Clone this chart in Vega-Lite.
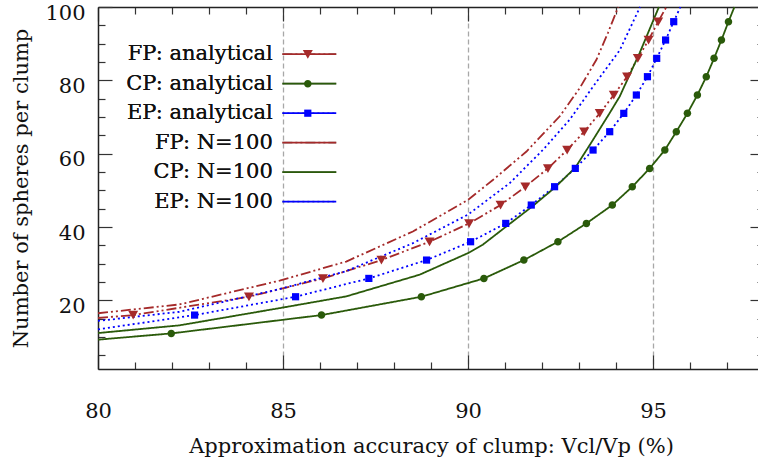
{
  "$schema": "https://vega.github.io/schema/vega-lite/v6.json",
  "width": 660,
  "height": 362,
  "autosize": {"type": "none"},
  "padding": {"left": 98, "top": 7, "right": 0, "bottom": 94},
  "background": "white",
  "config": {
    "view": {"stroke": null},
    "font": "DejaVu Serif",
    "axis": {
      "labelFont": "DejaVu Serif",
      "titleFont": "DejaVu Serif",
      "labelFontSize": 21,
      "titleFontSize": 21,
      "titleFontWeight": "normal",
      "labelColor": "#111111",
      "titleColor": "#111111",
      "domainColor": "#222222",
      "domainWidth": 1.5,
      "tickColor": "#333333",
      "tickWidth": 1.2,
      "labelOverlap": false,
      "labelFlush": false
    },
    "legend": {
      "labelFont": "DejaVu Serif",
      "labelFontSize": 21,
      "labelColor": "#111111",
      "labelLimit": 400,
      "padding": 0,
      "rowPadding": 7.5
    }
  },
  "datasets": {
    "lines": [
      {"series": "FP: analytical", "x": 80, "y": 15.2},
      {"series": "FP: analytical", "x": 80.95, "y": 16},
      {"series": "FP: analytical", "x": 84.08, "y": 21},
      {"series": "FP: analytical", "x": 86.08, "y": 26},
      {"series": "FP: analytical", "x": 87.66, "y": 31},
      {"series": "FP: analytical", "x": 88.96, "y": 36},
      {"series": "FP: analytical", "x": 90.03, "y": 41},
      {"series": "FP: analytical", "x": 90.88, "y": 46},
      {"series": "FP: analytical", "x": 91.55, "y": 51},
      {"series": "FP: analytical", "x": 92.16, "y": 56},
      {"series": "FP: analytical", "x": 92.68, "y": 61},
      {"series": "FP: analytical", "x": 93.14, "y": 66},
      {"series": "FP: analytical", "x": 93.56, "y": 71},
      {"series": "FP: analytical", "x": 93.94, "y": 76},
      {"series": "FP: analytical", "x": 94.3, "y": 81},
      {"series": "FP: analytical", "x": 94.59, "y": 86},
      {"series": "FP: analytical", "x": 94.88, "y": 91},
      {"series": "FP: analytical", "x": 95.14, "y": 96},
      {"series": "FP: analytical", "x": 95.36, "y": 100},

      {"series": "CP: analytical", "x": 80, "y": 9.3},
      {"series": "CP: analytical", "x": 81.98, "y": 11},
      {"series": "CP: analytical", "x": 86.04, "y": 16},
      {"series": "CP: analytical", "x": 88.74, "y": 21},
      {"series": "CP: analytical", "x": 90.43, "y": 26},
      {"series": "CP: analytical", "x": 91.51, "y": 31},
      {"series": "CP: analytical", "x": 92.43, "y": 36},
      {"series": "CP: analytical", "x": 93.2, "y": 41},
      {"series": "CP: analytical", "x": 93.9, "y": 46},
      {"series": "CP: analytical", "x": 94.44, "y": 51},
      {"series": "CP: analytical", "x": 94.91, "y": 56},
      {"series": "CP: analytical", "x": 95.32, "y": 61},
      {"series": "CP: analytical", "x": 95.63, "y": 66},
      {"series": "CP: analytical", "x": 95.93, "y": 71},
      {"series": "CP: analytical", "x": 96.2, "y": 76},
      {"series": "CP: analytical", "x": 96.44, "y": 81},
      {"series": "CP: analytical", "x": 96.65, "y": 86},
      {"series": "CP: analytical", "x": 96.85, "y": 91},
      {"series": "CP: analytical", "x": 97.04, "y": 96},
      {"series": "CP: analytical", "x": 97.2, "y": 100},

      {"series": "EP: analytical", "x": 80, "y": 12.1},
      {"series": "EP: analytical", "x": 82.61, "y": 16},
      {"series": "EP: analytical", "x": 85.34, "y": 21},
      {"series": "EP: analytical", "x": 87.32, "y": 26},
      {"series": "EP: analytical", "x": 88.88, "y": 31},
      {"series": "EP: analytical", "x": 90.07, "y": 36},
      {"series": "EP: analytical", "x": 91.02, "y": 41},
      {"series": "EP: analytical", "x": 91.71, "y": 46},
      {"series": "EP: analytical", "x": 92.34, "y": 51},
      {"series": "EP: analytical", "x": 92.9, "y": 56},
      {"series": "EP: analytical", "x": 93.38, "y": 61},
      {"series": "EP: analytical", "x": 93.83, "y": 66},
      {"series": "EP: analytical", "x": 94.21, "y": 71},
      {"series": "EP: analytical", "x": 94.55, "y": 76},
      {"series": "EP: analytical", "x": 94.85, "y": 81},
      {"series": "EP: analytical", "x": 95.1, "y": 86},
      {"series": "EP: analytical", "x": 95.34, "y": 91},
      {"series": "EP: analytical", "x": 95.56, "y": 96},
      {"series": "EP: analytical", "x": 95.74, "y": 100},

      {"series": "FP: N=100", "x": 80, "y": 16.5},
      {"series": "FP: N=100", "x": 82.2, "y": 18.9},
      {"series": "FP: N=100", "x": 84.91, "y": 25.4},
      {"series": "FP: N=100", "x": 86.71, "y": 30.6},
      {"series": "FP: N=100", "x": 88.51, "y": 38.8},
      {"series": "FP: N=100", "x": 90.0, "y": 47.4},
      {"series": "FP: N=100", "x": 90.68, "y": 52.9},
      {"series": "FP: N=100", "x": 91.58, "y": 60.6},
      {"series": "FP: N=100", "x": 92.48, "y": 70.2},
      {"series": "FP: N=100", "x": 93.02, "y": 77.9},
      {"series": "FP: N=100", "x": 93.47, "y": 85.6},
      {"series": "FP: N=100", "x": 93.78, "y": 92.9},
      {"series": "FP: N=100", "x": 94.06, "y": 100},

      {"series": "CP: N=100", "x": 80, "y": 11.1},
      {"series": "CP: N=100", "x": 82.2, "y": 13.2},
      {"series": "CP: N=100", "x": 84.91, "y": 17.9},
      {"series": "CP: N=100", "x": 86.71, "y": 21.1},
      {"series": "CP: N=100", "x": 88.69, "y": 27.0},
      {"series": "CP: N=100", "x": 90.0, "y": 32.9},
      {"series": "CP: N=100", "x": 90.4, "y": 35.2},
      {"series": "CP: N=100", "x": 91.04, "y": 40.2},
      {"series": "CP: N=100", "x": 91.71, "y": 45.4},
      {"series": "CP: N=100", "x": 92.34, "y": 50.7},
      {"series": "CP: N=100", "x": 92.9, "y": 56.2},
      {"series": "CP: N=100", "x": 93.38, "y": 63.8},
      {"series": "CP: N=100", "x": 93.83, "y": 71.1},
      {"series": "CP: N=100", "x": 94.1, "y": 75.6},
      {"series": "CP: N=100", "x": 94.64, "y": 87.5},
      {"series": "CP: N=100", "x": 95.16, "y": 100},

      {"series": "EP: N=100", "x": 80, "y": 14.4},
      {"series": "EP: N=100", "x": 82.2, "y": 16.9},
      {"series": "EP: N=100", "x": 84.91, "y": 23.1},
      {"series": "EP: N=100", "x": 86.71, "y": 28.0},
      {"series": "EP: N=100", "x": 88.51, "y": 35.6},
      {"series": "EP: N=100", "x": 90.0, "y": 43.4},
      {"series": "EP: N=100", "x": 91.13, "y": 52.0},
      {"series": "EP: N=100", "x": 92.03, "y": 61.1},
      {"series": "EP: N=100", "x": 92.75, "y": 69.3},
      {"series": "EP: N=100", "x": 93.38, "y": 78.3},
      {"series": "EP: N=100", "x": 94.1, "y": 88.2},
      {"series": "EP: N=100", "x": 94.65, "y": 100}
    ],
    "markers": [
      {"series": "FP: analytical", "x": 80.95, "y": 16},
      {"series": "FP: analytical", "x": 84.08, "y": 21},
      {"series": "FP: analytical", "x": 86.08, "y": 26},
      {"series": "FP: analytical", "x": 87.66, "y": 31},
      {"series": "FP: analytical", "x": 88.96, "y": 36},
      {"series": "FP: analytical", "x": 90.03, "y": 41},
      {"series": "FP: analytical", "x": 90.88, "y": 46},
      {"series": "FP: analytical", "x": 91.55, "y": 51},
      {"series": "FP: analytical", "x": 92.16, "y": 56},
      {"series": "FP: analytical", "x": 92.68, "y": 61},
      {"series": "FP: analytical", "x": 93.14, "y": 66},
      {"series": "FP: analytical", "x": 93.56, "y": 71},
      {"series": "FP: analytical", "x": 93.94, "y": 76},
      {"series": "FP: analytical", "x": 94.3, "y": 81},
      {"series": "FP: analytical", "x": 94.59, "y": 86},
      {"series": "FP: analytical", "x": 94.88, "y": 91},
      {"series": "FP: analytical", "x": 95.14, "y": 96},
      {"series": "CP: analytical", "x": 81.98, "y": 11},
      {"series": "CP: analytical", "x": 86.04, "y": 16},
      {"series": "CP: analytical", "x": 88.74, "y": 21},
      {"series": "CP: analytical", "x": 90.43, "y": 26},
      {"series": "CP: analytical", "x": 91.51, "y": 31},
      {"series": "CP: analytical", "x": 92.43, "y": 36},
      {"series": "CP: analytical", "x": 93.2, "y": 41},
      {"series": "CP: analytical", "x": 93.9, "y": 46},
      {"series": "CP: analytical", "x": 94.44, "y": 51},
      {"series": "CP: analytical", "x": 94.91, "y": 56},
      {"series": "CP: analytical", "x": 95.32, "y": 61},
      {"series": "CP: analytical", "x": 95.63, "y": 66},
      {"series": "CP: analytical", "x": 95.93, "y": 71},
      {"series": "CP: analytical", "x": 96.2, "y": 76},
      {"series": "CP: analytical", "x": 96.44, "y": 81},
      {"series": "CP: analytical", "x": 96.65, "y": 86},
      {"series": "CP: analytical", "x": 96.85, "y": 91},
      {"series": "CP: analytical", "x": 97.04, "y": 96},
      {"series": "EP: analytical", "x": 82.61, "y": 16},
      {"series": "EP: analytical", "x": 85.34, "y": 21},
      {"series": "EP: analytical", "x": 87.32, "y": 26},
      {"series": "EP: analytical", "x": 88.88, "y": 31},
      {"series": "EP: analytical", "x": 90.07, "y": 36},
      {"series": "EP: analytical", "x": 91.02, "y": 41},
      {"series": "EP: analytical", "x": 91.71, "y": 46},
      {"series": "EP: analytical", "x": 92.34, "y": 51},
      {"series": "EP: analytical", "x": 92.9, "y": 56},
      {"series": "EP: analytical", "x": 93.38, "y": 61},
      {"series": "EP: analytical", "x": 93.83, "y": 66},
      {"series": "EP: analytical", "x": 94.21, "y": 71},
      {"series": "EP: analytical", "x": 94.55, "y": 76},
      {"series": "EP: analytical", "x": 94.85, "y": 81},
      {"series": "EP: analytical", "x": 95.1, "y": 86},
      {"series": "EP: analytical", "x": 95.34, "y": 91},
      {"series": "EP: analytical", "x": 95.56, "y": 96}
    ]
  },
  "layer": [
    {
      "data": {"name": "lines"},
      "mark": {"type": "line", "strokeWidth": 1.8},
      "encoding": {
        "x": {
          "field": "x", "type": "quantitative",
          "scale": {"domain": [80, 98], "range": [0, 666], "nice": false, "zero": false},
          "axis": {
            "orient": "bottom",
            "values": [80, 81, 82, 83, 84, 85, 86, 87, 88, 89, 90, 91, 92, 93, 94, 95, 96, 97, 98],
            "title": "Approximation accuracy of clump: Vcl/Vp (%)",
            "labelExpr": "datum.value % 5 === 0 ? datum.label : ''",
            "tickSize": {"condition": {"test": "datum.value % 5 === 0", "value": -14}, "value": -7},
            "labelPadding": 45,
            "titlePadding": 7,
            "grid": true,
            "gridColor": "#a8a8a8",
            "gridDash": [5, 3],
            "gridWidth": 1.3,
            "gridOpacity": {"condition": {"test": "datum.value === 85 || datum.value === 90 || datum.value === 95", "value": 1}, "value": 0}
          }
        },
        "y": {
          "field": "y", "type": "quantitative",
          "scale": {"domain": [1.3, 100], "nice": false, "zero": false},
          "axis": {
            "orient": "left",
            "values": [5, 10, 15, 20, 25, 30, 35, 40, 45, 50, 55, 60, 65, 70, 75, 80, 85, 90, 95, 100],
            "title": "Number of spheres per clump",
            "labelExpr": "datum.value % 20 === 0 ? datum.label : ''",
            "tickSize": {"condition": {"test": "datum.value % 20 === 0", "value": -14}, "value": -7},
            "labelPadding": 27,
            "labelOffset": 6,
            "titlePadding": 13,
            "grid": false
          }
        },
        "color": {
          "field": "series", "type": "nominal",
          "scale": {
            "domain": ["FP: analytical", "CP: analytical", "EP: analytical", "FP: N=100", "CP: N=100", "EP: N=100"],
            "range": ["#a52a2a", "#2a5a0a", "#0000ff", "#a52a2a", "#2a5a0a", "#0000ff"]
          },
          "legend": {
            "title": null,
            "orient": "none",
            "legendX": 200.8,
            "legendY": 36.7,
            "labelAlign": "right",
            "labelOffset": -47,
            "symbolType": "M-4.9,0H4.9",
            "symbolSize": 121,
            "symbolStrokeWidth": 1.8
          }
        },
        "strokeDash": {
          "field": "series", "type": "nominal",
          "scale": {
            "domain": ["FP: analytical", "CP: analytical", "EP: analytical", "FP: N=100", "CP: N=100", "EP: N=100"],
            "range": [[10, 3, 2, 3, 2, 3], [1, 0], [2, 3], [10, 3, 2, 3, 2, 3], [1, 0], [2, 3]]
          },
          "legend": {
            "title": null,
            "orient": "none",
            "legendX": 200.8,
            "legendY": 36.7,
            "labelAlign": "right",
            "labelOffset": -47,
            "symbolType": "M-4.9,0H4.9",
            "symbolSize": 121,
            "symbolStrokeWidth": 1.8
          }
        }
      }
    },
    {
      "data": {"name": "markers"},
      "mark": {"type": "point", "filled": true, "size": 100, "opacity": 1},
      "encoding": {
        "x": {
          "field": "x", "type": "quantitative",
          "scale": {"domain": [80, 98], "range": [0, 666], "nice": false, "zero": false},
          "axis": {
            "orient": "top",
            "values": [80, 81, 82, 83, 84, 85, 86, 87, 88, 89, 90, 91, 92, 93, 94, 95, 96, 97, 98],
            "labels": false,
            "title": null,
            "grid": false,
            "tickSize": {"condition": {"test": "datum.value % 5 === 0", "value": -14}, "value": -7}
          }
        },
        "y": {
          "field": "y", "type": "quantitative",
          "scale": {"domain": [1.3, 100], "nice": false, "zero": false},
          "axis": {
            "orient": "right",
            "offset": 6,
            "values": [5, 10, 15, 20, 25, 30, 35, 40, 45, 50, 55, 60, 65, 70, 75, 80, 85, 90, 95, 100],
            "labels": false,
            "title": null,
            "grid": false,
            "tickSize": {"condition": {"test": "datum.value % 20 === 0", "value": -14}, "value": -7}
          }
        },
        "color": {
          "field": "series", "type": "nominal",
          "scale": {
            "domain": ["FP: analytical", "CP: analytical", "EP: analytical"],
            "range": ["#a52a2a", "#2a5a0a", "#0000ff"]
          },
          "legend": {
            "title": null,
            "orient": "none",
            "legendX": 199.3,
            "legendY": 36.7,
            "labelOpacity": 0,
            "symbolSize": 100,
            "symbolStrokeWidth": 0
          }
        },
        "shape": {
          "field": "series", "type": "nominal",
          "scale": {
            "domain": ["FP: analytical", "CP: analytical", "EP: analytical"],
            "range": ["M-1,-0.85L1,-0.85L0,0.9Z", "M-0.75,0A0.75,0.75,0,1,0,0.75,0A0.75,0.75,0,1,0,-0.75,0Z", "M-0.72,-0.72H0.72V0.72H-0.72Z"]
          },
          "legend": {
            "title": null,
            "orient": "none",
            "legendX": 199.3,
            "legendY": 36.7,
            "labelOpacity": 0,
            "symbolSize": 100,
            "symbolStrokeWidth": 0
          }
        }
      }
    }
  ],
  "resolve": {
    "scale": {"color": "independent", "shape": "independent"},
    "axis": {"x": "independent", "y": "independent"}
  }
}
